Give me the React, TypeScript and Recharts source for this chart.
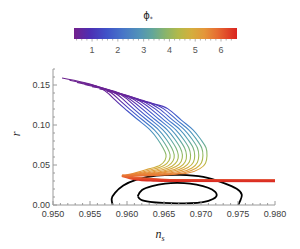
import { LineChart, Line, XAxis, YAxis } from 'recharts';

// phi_* tracks in the (n_s, r) plane
const track0: [number, number][] = [
  [0.95122, 0.1588], [0.95595, 0.1483], [0.95824, 0.1326], [0.95973, 0.1202], [0.96149, 0.1065],
  [0.96311, 0.094], [0.96419, 0.0816], [0.96486, 0.0716], [0.96527, 0.0629], [0.96514, 0.056],
  [0.96446, 0.0498], [0.96311, 0.0455], [0.96149, 0.0411], [0.96014, 0.038], [0.95932, 0.0367],
];
const track1: [number, number][] = [
  [0.95223, 0.156], [0.95673, 0.1461], [0.95882, 0.1326], [0.96031, 0.1202], [0.96207, 0.1065],
  [0.96369, 0.094], [0.96477, 0.0816], [0.96545, 0.0716], [0.96582, 0.0628], [0.96568, 0.0557],
  [0.965, 0.0494], [0.96362, 0.0449], [0.96192, 0.0408], [0.96043, 0.0379], [0.95932, 0.0367],
];
const track2: [number, number][] = [
  [0.95324, 0.1533], [0.95751, 0.1439], [0.95941, 0.1326], [0.96089, 0.1202], [0.96265, 0.1065],
  [0.96427, 0.094], [0.96535, 0.0816], [0.96603, 0.0716], [0.96638, 0.0626], [0.96623, 0.0553],
  [0.96554, 0.0489], [0.96414, 0.0443], [0.96235, 0.0405], [0.96073, 0.0377], [0.95932, 0.0367],
];
const track3: [number, number][] = [
  [0.95426, 0.1506], [0.9583, 0.1416], [0.95999, 0.1326], [0.96147, 0.1202], [0.96323, 0.1065],
  [0.96485, 0.094], [0.96593, 0.0816], [0.96661, 0.0716], [0.96693, 0.0625], [0.96678, 0.0549],
  [0.96608, 0.0485], [0.96465, 0.0438], [0.96278, 0.0402], [0.96103, 0.0376], [0.95932, 0.0367],
];
const track4: [number, number][] = [
  [0.95527, 0.1478], [0.95908, 0.1394], [0.96205, 0.1202], [0.96381, 0.1065], [0.96543, 0.094],
  [0.96651, 0.0816], [0.96719, 0.0716], [0.96749, 0.0624], [0.96732, 0.0545], [0.96662, 0.0481],
  [0.96516, 0.0432], [0.96322, 0.0399], [0.96132, 0.0375], [0.95932, 0.0367],
];
const track5: [number, number][] = [
  [0.95628, 0.1451], [0.95986, 0.1372], [0.96264, 0.1202], [0.96439, 0.1065], [0.96601, 0.094],
  [0.96709, 0.0816], [0.96777, 0.0716], [0.96804, 0.0623], [0.96787, 0.0542], [0.96716, 0.0476],
  [0.96568, 0.0427], [0.96365, 0.0395], [0.96162, 0.0374], [0.95932, 0.0367],
];
const track6: [number, number][] = [
  [0.9573, 0.1423], [0.96065, 0.1349], [0.96322, 0.1202], [0.96497, 0.1065], [0.96659, 0.094],
  [0.96768, 0.0816], [0.96835, 0.0716], [0.96859, 0.0621], [0.96842, 0.0538], [0.9677, 0.0472],
  [0.96619, 0.0421], [0.96408, 0.0392], [0.96192, 0.0372], [0.95932, 0.0367],
];
const track7: [number, number][] = [
  [0.95831, 0.1396], [0.96143, 0.1327], [0.9638, 0.1202], [0.96555, 0.1065], [0.96718, 0.094],
  [0.96826, 0.0816], [0.96893, 0.0716], [0.96915, 0.062], [0.96897, 0.0534], [0.96824, 0.0468],
  [0.9667, 0.0415], [0.96451, 0.0389], [0.96222, 0.0371], [0.95932, 0.0367],
];
const track8: [number, number][] = [
  [0.95932, 0.1369], [0.96222, 0.1305], [0.96438, 0.1202], [0.96614, 0.1065], [0.96776, 0.094],
  [0.96884, 0.0816], [0.96951, 0.0716], [0.9697, 0.0619], [0.96951, 0.0531], [0.96878, 0.0463],
  [0.96722, 0.041], [0.96495, 0.0386], [0.96251, 0.037], [0.95932, 0.0367],
];
const track9: [number, number][] = [
  [0.96034, 0.1341], [0.963, 0.1283], [0.96496, 0.1202], [0.96672, 0.1065], [0.96834, 0.094],
  [0.96942, 0.0816], [0.97009, 0.0716], [0.97026, 0.0618], [0.97006, 0.0527], [0.96932, 0.0459],
  [0.96773, 0.0404], [0.96538, 0.0383], [0.96281, 0.0369], [0.95932, 0.0367],
];
const track10: [number, number][] = [
  [0.96135, 0.1314], [0.96378, 0.126], [0.96554, 0.1202], [0.9673, 0.1065], [0.96892, 0.094],
  [0.97, 0.0816], [0.97068, 0.0716], [0.97081, 0.0616], [0.97061, 0.0523], [0.96986, 0.0455],
  [0.96824, 0.0399], [0.96581, 0.038], [0.96311, 0.0367], [0.95932, 0.0367],
];
// common red tail running out to large n_s
const tailA: [number, number][] = [
  [0.95932, 0.0367], [0.96041, 0.0339], [0.96176, 0.032], [0.96378, 0.0309], [0.96649, 0.0305], [0.98, 0.0303],
];
const tailB: [number, number][] = [
  [0.95932, 0.0367], [0.96108, 0.0347], [0.96311, 0.033], [0.96581, 0.0315], [0.96986, 0.0308], [0.98, 0.0308],
];
// Planck contours
const outerContour: [number, number][] = [
  [0.95807, 0], [0.95793, 0.0077], [0.95838, 0.0152], [0.9595, 0.0243], [0.96131, 0.0318],
  [0.96401, 0.0367], [0.96716, 0.0376], [0.97031, 0.0351], [0.97301, 0.0276], [0.97482, 0.0202],
  [0.9755, 0.0131], [0.97536, 0.0068], [0.97504, 0],
];
const innerContour: [number, number][] = [
  [0.96145, 0.0112], [0.96203, 0.0187], [0.96338, 0.0237], [0.96514, 0.0268], [0.96676, 0.0276],
  [0.96851, 0.0268], [0.97027, 0.0237], [0.97149, 0.0193], [0.97212, 0.0131], [0.97162, 0.0075],
  [0.97027, 0.0035], [0.96851, 0.0022], [0.96676, 0.002], [0.96486, 0.0026], [0.96311, 0.004],
  [0.96189, 0.0066], [0.96145, 0.0112],
];

const tracks = [track0, track1, track2, track3, track4, track5, track6, track7, track8, track9, track10];

const nsLabels = [0.95, 0.955, 0.96, 0.965, 0.97, 0.975, 0.98];
const rLabels = [0, 0.05, 0.1, 0.15];
const phiLabels = [1, 2, 3, 4, 5, 6];
const phiRange = [0.3, 6.62];

const nsTicks = Array.from({ length: 31 }, (_, i) => Number((0.95 + i * 0.001).toFixed(3)));
const rTicks = Array.from({ length: 18 }, (_, i) => Number((i * 0.01).toFixed(2)));

const toRows = (pts: [number, number][]) => pts.map(([ns, r]) => ({ ns, r }));
const isMajor = (v: number, majors: number[]) => majors.some((m) => Math.abs(m - v) < 1e-9);

const FRAME = '#9a9a9a';
const LABEL = '#3c3c3c';
const FONT = '"Liberation Sans", Arial, sans-serif';
const MARGIN = 12;

// Mathematica "Rainbow"
const rainbow = [
  [0, '#74208c'], [0.1, '#4c2fb4'], [0.2, '#3f52c8'], [0.3, '#4675c8'], [0.4, '#5192b8'],
  [0.48, '#62a69a'], [0.56, '#88b46c'], [0.64, '#b2b94a'], [0.72, '#d4ae3e'], [0.8, '#e4963a'],
  [0.88, '#e66c32'], [1, '#da2420'],
] as const;

// colour of the tracks versus height in the plot (plot spans y 69..205)
const trackStops = [
  [0.06, '#6b1f8c'], [0.19, '#682498'], [0.24, '#5a2aa8'], [0.286, '#4540c0'], [0.344, '#3f5ecc'],
  [0.41, '#447ecb'], [0.469, '#4c94be'], [0.53, '#5aa6a6'], [0.59, '#7cb478'], [0.645, '#9cbb56'],
  [0.69, '#bab947'], [0.725, '#d4ae3e'], [0.755, '#e4963a'], [0.78, '#e87a36'], [0.8, '#e55a2d'],
  [0.82, '#dc3324'], [0.84, '#d92120'],
] as const;

function BottomTick(props: any) {
  const { x, y, payload } = props;
  const v = payload.value as number;
  const major = isMajor(v, nsLabels);
  const y0 = y - MARGIN;
  return (
    <g>
      <line x1={x} x2={x} y1={y0} y2={y0 - (major ? 4 : 2)} stroke={FRAME} />
      {major && (
        <text x={x} y={y0 + 12} textAnchor="middle" fontSize={9} fill={LABEL} fontFamily={FONT}>
          {v.toFixed(3)}
        </text>
      )}
    </g>
  );
}

function TopTick(props: any) {
  const { x, y, payload } = props;
  const major = isMajor(payload.value, nsLabels);
  const y0 = y + MARGIN;
  return <line x1={x} x2={x} y1={y0} y2={y0 + (major ? 4 : 2)} stroke={FRAME} />;
}

function LeftTick(props: any) {
  const { x, y, payload } = props;
  const v = payload.value as number;
  const major = isMajor(v, rLabels);
  const x0 = x + MARGIN;
  return (
    <g>
      <line x1={x0} x2={x0 + (major ? 4 : 2)} y1={y} y2={y} stroke={FRAME} />
      {major && (
        <text x={x0 - 3} y={y + 3.2} textAnchor="end" fontSize={9} fill={LABEL} fontFamily={FONT}>
          {v.toFixed(2)}
        </text>
      )}
    </g>
  );
}

function RightTick(props: any) {
  const { x, y, payload } = props;
  const major = isMajor(payload.value, rLabels);
  const x0 = x - MARGIN;
  return <line x1={x0} x2={x0 - (major ? 4 : 2)} y1={y} y2={y} stroke={FRAME} />;
}

function ColorBar() {
  const bx = 74;
  const bw = 163;
  const by = 28;
  const bh = 11;
  const px = (v: number) => bx + ((v - phiRange[0]) / (phiRange[1] - phiRange[0])) * bw;
  const minor = Array.from({ length: 31 }, (_, i) => Number((0.4 + i * 0.2).toFixed(1)));
  return (
    <g>
      <defs>
        <linearGradient id="cbar" x1="0" y1="0" x2="1" y2="0">
          {rainbow.map(([o, c]) => (
            <stop key={o} offset={o} stopColor={c} />
          ))}
        </linearGradient>
      </defs>
      <text x={148} y={19} textAnchor="middle" fontSize={10} fill="#222" fontFamily='"DejaVu Sans", sans-serif'>
        ϕ<tspan fontSize={6} dy={2}>*</tspan>
      </text>
      <rect x={bx} y={by} width={bw} height={bh} fill="url(#cbar)" />
      {minor.map((v) => (
        <line key={v} x1={px(v)} x2={px(v)} y1={by + bh} y2={by + bh + (Number.isInteger(v) ? 2.5 : 1.5)} stroke="#b0b0b0" />
      ))}
      {phiLabels.map((v) => (
        <text key={v} x={px(v)} y={53} textAnchor="middle" fontSize={9} fill="#555" fontFamily={FONT}>
          {v}
        </text>
      ))}
    </g>
  );
}

export default function App() {
  return (
    <div style={{ position: 'absolute', left: 0, top: 0, width: 300, height: 249, background: '#fff', fontFamily: FONT }}>
      <LineChart width={300} height={249} margin={{ top: 69, right: 25, bottom: 0, left: 0 }}>
        <defs>
          <linearGradient id="phiGrad" gradientUnits="userSpaceOnUse" x1="0" y1="69" x2="0" y2="205">
            {trackStops.map(([o, c]) => (
              <stop key={o} offset={o} stopColor={c} />
            ))}
          </linearGradient>
        </defs>
        <XAxis
          xAxisId="b"
          dataKey="ns"
          type="number"
          domain={[0.95, 0.98]}
          allowDataOverflow
          ticks={nsTicks}
          interval={0}
          height={44}
          tickSize={0}
          tickMargin={MARGIN}
          tickLine={false}
          tick={<BottomTick />}
          axisLine={{ stroke: FRAME }}
        />
        <XAxis
          xAxisId="t"
          orientation="top"
          dataKey="ns"
          type="number"
          domain={[0.95, 0.98]}
          ticks={nsTicks}
          interval={0}
          height={0}
          tickSize={0}
          tickMargin={MARGIN}
          tickLine={false}
          tick={<TopTick />}
          axisLine={{ stroke: FRAME }}
        />
        <YAxis
          yAxisId="l"
          type="number"
          domain={[0, 0.17]}
          allowDataOverflow
          ticks={rTicks}
          interval={0}
          width={53}
          tickSize={0}
          tickMargin={MARGIN}
          tickLine={false}
          tick={<LeftTick />}
          axisLine={{ stroke: FRAME }}
        />
        <YAxis
          yAxisId="r"
          orientation="right"
          type="number"
          domain={[0, 0.17]}
          ticks={rTicks}
          interval={0}
          width={0}
          tickSize={0}
          tickMargin={MARGIN}
          tickLine={false}
          tick={<RightTick />}
          axisLine={{ stroke: FRAME }}
        />
        <Line xAxisId="b" yAxisId="l" data={toRows(outerContour)} dataKey="r" type="natural" stroke="#000" strokeWidth={1.8} dot={false} isAnimationActive={false} />
        <Line xAxisId="b" yAxisId="l" data={toRows(innerContour)} dataKey="r" type="natural" stroke="#000" strokeWidth={1.8} dot={false} isAnimationActive={false} />
        {tracks.map((t, i) => (
          <Line
            key={i}
            xAxisId="b"
            yAxisId="l"
            data={toRows(t)}
            dataKey="r"
            type="natural"
            stroke="url(#phiGrad)"
            strokeWidth={1.1}
            dot={false}
            isAnimationActive={false}
          />
        ))}
        <Line xAxisId="b" yAxisId="l" data={toRows(tailB)} dataKey="r" type="natural" stroke="url(#phiGrad)" strokeWidth={1.6} dot={false} isAnimationActive={false} />
        <Line xAxisId="b" yAxisId="l" data={toRows(tailA)} dataKey="r" type="natural" stroke="url(#phiGrad)" strokeWidth={3} dot={false} isAnimationActive={false} />
      </LineChart>
      <svg width={300} height={249} style={{ position: 'absolute', left: 0, top: 0, pointerEvents: 'none' }}>
        <ColorBar />
        <text x={20} y={134} fontSize={12} fill="#222" fontFamily='"Liberation Serif", serif' fontStyle="italic" transform="rotate(-90 20 134)" textAnchor="middle">
          r
        </text>
        <text x={160} y={238} fontSize={12} fill="#222" fontFamily='"Liberation Serif", serif' fontStyle="italic" textAnchor="middle">
          n<tspan fontSize={8} dy={2.5}>s</tspan>
        </text>
      </svg>
    </div>
  );
}
